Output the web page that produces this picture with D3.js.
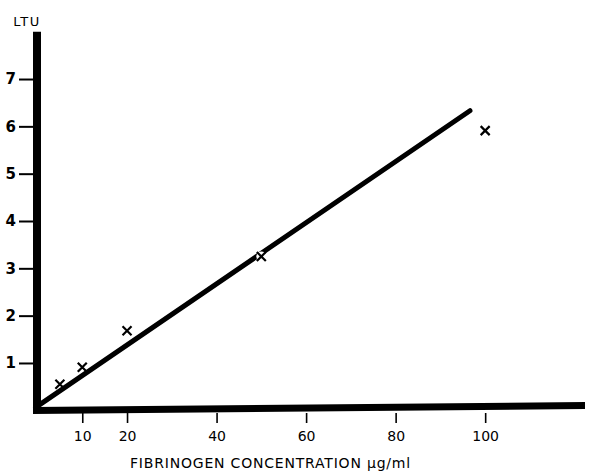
<!DOCTYPE html>
<html>
<head>
<meta charset="utf-8">
<script src="https://cdn.jsdelivr.net/npm/d3@7"></script>
<style>
  body { margin: 0; background: #fff; }
  svg { display: block; }
  text { font-family: "DejaVu Sans", sans-serif; fill: #000; }
</style>
</head>
<body>
<svg width="596" height="472"></svg>
<script>
// data
var concentration = [5, 10, 20, 50, 100];
var ltu = [0.55, 0.91, 1.68, 3.25, 5.91];
var fitX = [0.5, 96.6];
var fitY = [0.12, 6.33];
var xTicks = [10, 20, 40, 60, 80, 100];
var yTicks = [1, 2, 3, 4, 5, 6, 7];

var svg = d3.select('svg');

var x = d3.scaleLinear().domain([0, 122.3]).range([37.5, 585]);
var y = d3.scaleLinear().domain([0, 8]).range([410.3, 31.7]);

// x axis ticks + labels
var xAxis = d3.axisBottom(x).tickValues(xTicks).tickSize(10).tickPadding(5);
var gx = svg.append('g')
    .attr('transform', 'translate(0,413)')
    .call(xAxis);
gx.select('.domain').remove();
gx.selectAll('line').attr('stroke', '#000').attr('stroke-width', 1.6);
gx.selectAll('text').style('font-size', '14px').attr('dy', '0.9em');

// y axis ticks + labels
var yAxis = d3.axisLeft(y).tickValues(yTicks).tickSize(15).tickPadding(3);
var gy = svg.append('g')
    .attr('transform', 'translate(34,0)')
    .call(yAxis);
gy.select('.domain').remove();
gy.selectAll('line').attr('stroke', '#000').attr('stroke-width', 2);
gy.selectAll('text').style('font-size', '15px').style('font-weight', 'bold');

// thick axis lines (x axis slightly tilted as in the scan)
svg.append('line')
    .attr('x1', 33).attr('y1', 410.5)
    .attr('x2', x.range()[1]).attr('y2', 405.5)
    .attr('stroke', '#000').attr('stroke-width', 7);
svg.append('line')
    .attr('x1', 37).attr('y1', y.range()[1])
    .attr('x2', 37).attr('y2', 413)
    .attr('stroke', '#000').attr('stroke-width', 8);

// LTU label
svg.append('text')
    .attr('x', 27).attr('y', 26)
    .attr('text-anchor', 'middle')
    .style('font-size', '13px')
    .style('letter-spacing', '1.5px')
    .text('LTU');

// fitted line
svg.append('line')
    .attr('x1', x(fitX[0])).attr('y1', y(fitY[0]))
    .attr('x2', x(fitX[1])).attr('y2', y(fitY[1]))
    .attr('stroke', '#000').attr('stroke-width', 5)
    .attr('stroke-linecap', 'round');

// white gap around the point at 50
svg.append('circle')
    .attr('cx', x(concentration[3])).attr('cy', y(ltu[3]))
    .attr('r', 5).attr('fill', '#fff');

// x markers
var pts = concentration.map((c, i) => ({ c: c, v: ltu[i] }));
svg.selectAll('path.mark')
    .data(pts)
    .enter()
    .append('path')
    .attr('class', 'mark')
    .attr('d', d => {
        var cx = x(d.c), cy = y(d.v), s = 4.5;
        return `M${cx - s},${cy - s}L${cx + s},${cy + s}M${cx + s},${cy - s}L${cx - s},${cy + s}`;
    })
    .attr('stroke', '#000').attr('stroke-width', 2.2);

// x axis title
svg.append('text')
    .attr('x', 130).attr('y', 468)
    .style('font-size', '14px')
    .style('letter-spacing', '0.8px')
    .text('FIBRINOGEN CONCENTRATION  \u00b5g/ml');
</script>
</body>
</html>
